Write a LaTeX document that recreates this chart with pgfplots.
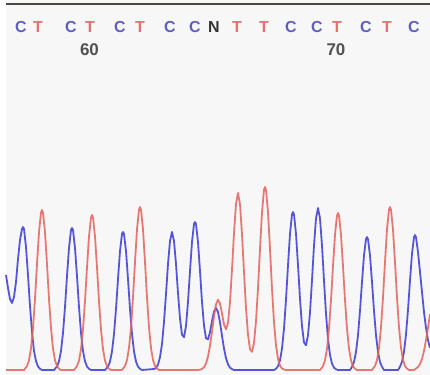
\documentclass[border=0pt]{standalone}
\usepackage{pgfplots}
\pgfplotsset{compat=1.18}
\usepackage{fontspec}
\setmainfont{Liberation Sans}
\definecolor{traceC}{RGB}{85,85,215}
\definecolor{traceT}{RGB}{228,98,92}
\definecolor{letC}{RGB}{95,95,190}
\definecolor{letT}{RGB}{228,112,112}
\definecolor{letN}{RGB}{50,50,50}
\definecolor{numcol}{RGB}{80,80,80}
\definecolor{bgcol}{RGB}{247,247,247}
\definecolor{topline}{RGB}{70,72,62}
\begin{document}
\begin{tikzpicture}
\begin{axis}[width=430bp, height=375bp, scale only axis,
  xmin=0, xmax=430, ymin=-5, ymax=370, hide axis, clip=true]
\fill[bgcol] (axis cs:6,-5) rectangle (axis cs:430,370);
\draw[topline, line width=2.2bp] (axis cs:6,366) -- (axis cs:430,366);
% C trace (blue)
\addplot[traceC, line width=1.8bp, line join=round] coordinates {
(6,95)(8,82)(10,71)(12,67)(14,73)(16,88)(18,111)(20,130)(22,141)(23,143)(24,141)(26,123)(28,95)(30,64)(32,38)(34,19)(36,9)(38,3.5)(40,1.2)(42,0)
(54,0)(55,1.2)(57,3.5)(59,8.7)(61,19)(63,37)(65,63)(67,94)(69,122)(71,140)(72,142)(73,140)(75,122)(77,94)(79,63)(81,37)(83,19)(85,8.7)(87,3.5)(89,1.2)(91,0)
(105,0)(106,1.2)(108,3.4)(110,8.4)(112,18.6)(114,36)(116,61)(118,91)(120,119)(122,136)(123,138)(124,136)(126,119)(128,91)(130,61)(132,36)(134,18.6)(136,8.4)(138,3.4)(140,1.2)(142,0)
(154,1)(156,2)(158,5.4)(160,12.8)(162,26)(164,48)(166,76)(168,106)(170,129)(172,138)(174,129)(176,106)(178,77)(180,51.5)(182,35.4)(184,32.8)(186,44)(188,68)(190,99)(192,128)(194,146)(195,148)(196,146)(198,128)(200,99)(202,68)(204,44.5)(206,31.8)(208,30.6)(210,37.8)(212,48.8)(214,58.4)(216,62)(218,58)(220,47.6)(222,34.2)(224,21.5)(226,11.8)(228,5.7)(230,2.4)(232,0.9)(234,0)
(274,0)(276,1.3)(278,3.8)(280,9.7)(282,21.3)(284,41.4)(286,70.3)(288,104.6)(290,136.2)(292,155.5)(293,158)(294,155.5)(296,136.2)(298,104.8)(300,71.1)(302,43.8)(304,27.7)(306,24.7)(308,34.7)(310,57.5)(312,89.8)(314,124.4)(316,151.6)(318,162)(320,151.6)(322,124.4)(324,89.4)(326,56.2)(328,30.9)(330,15)(332,6.35)(334,2.35)(336,0.76)(338,0)
(350,0)(352,3.2)(354,8.1)(356,18)(358,34.8)(360,59.2)(362,88)(364,114.6)(366,130.9)(367,133)(368,130.9)(370,114.6)(372,88)(374,59.2)(376,34.8)(378,18)(380,8.1)(382,3.2)(384,0)
(398,0)(400,3.3)(402,8.3)(404,18.2)(406,35.4)(408,60.1)(410,89.4)(412,116.4)(414,132.8)(415,135)(416,132.8)(418,118)(420,98)(422,78)(424,58)(426,42)(428,30)(430,22)
};
% T trace (red)
\addplot[traceT, line width=1.8bp, line join=round, opacity=0.85] coordinates {
(6,0)(24,0)(25,1.3)(27,3.9)(29,9.8)(31,21.6)(33,41.9)(35,71.2)(37,105.9)(39,137.9)(41,157.4)(42,160)(43,157.4)(45,137.9)(47,105.9)(49,71.2)(51,41.9)(53,21.6)(55,9.8)(57,3.9)(59,1.3)(61,0)
(74,0)(75,1.3)(77,3.8)(79,9.5)(81,20.9)(83,40.6)(85,69)(87,102.6)(89,133.6)(91,152.5)(92,155)(93,152.5)(95,133.6)(97,102.6)(99,69)(101,40.6)(103,20.9)(105,9.5)(107,3.8)(109,1.3)(111,0)
(122,0)(123,1.4)(125,4)(127,10)(129,22)(131,42.7)(133,72.5)(135,107.9)(137,140.5)(139,160.4)(140,163)(141,160.4)(143,140.5)(145,107.9)(147,72.5)(149,42.7)(151,22)(153,10)(155,4)(157,1.4)(159,0)
(198,0)(200,0.3)(202,1)(204,2.7)(206,6.5)(208,13.4)(210,24.3)(212,38.6)(214,53.8)(216,65.6)(218,70.2)(220,66.3)(222,56.4)(224,45.5)(226,40.7)(228,47.2)(230,67.9)(232,100.4)(234,136.9)(236,166)(238,177)(240,165.7)(242,135.9)(244,97.8)(246,61.9)(248,35.3)(250,20.8)(252,18.1)(254,27.3)(256,48.7)(258,81.6)(260,121.1)(262,157.7)(264,180.1)(265,183)(266,180.1)(268,157.7)(270,121.1)(272,81.4)(274,47.9)(276,24.7)(278,11.2)(280,4.45)(282,1.54)(284,0.48)(286,0)
(320,0)(321,1.3)(323,3.8)(325,9.6)(327,21.2)(329,41.1)(331,69.9)(333,103.9)(335,135.3)(337,154.5)(338,157)(339,154.5)(341,135.3)(343,103.9)(345,69.9)(347,41.1)(349,21.2)(351,9.6)(353,3.8)(355,1.3)(357,0)
(372,0)(373,1.4)(375,4)(377,10)(379,22)(381,42.7)(383,72.5)(385,107.9)(387,140.5)(389,160.4)(390,163)(391,160.4)(393,140.5)(395,107.9)(397,72.5)(399,42.7)(401,22)(403,10)(405,4)(407,1.4)(409,0)
(414,0)(418,3)(420,6)(422,11)(424,19)(426,30)(428,42)(430,56)
};
% base calls
\tikzset{base/.style={font=\fontsize{16}{16}\selectfont\bfseries, inner sep=0pt, anchor=center}}
\node[base, letC] at (axis cs:21,343) {C};
\node[base, letT] at (axis cs:38,343) {T};
\node[base, letC] at (axis cs:71,343) {C};
\node[base, letT] at (axis cs:90,343) {T};
\node[base, letC] at (axis cs:120,343) {C};
\node[base, letT] at (axis cs:140,343) {T};
\node[base, letC] at (axis cs:170,343) {C};
\node[base, letC] at (axis cs:195,343) {C};
\node[base, letN] at (axis cs:214,343) {N};
\node[base, letT] at (axis cs:237,343) {T};
\node[base, letT] at (axis cs:264,343) {T};
\node[base, letC] at (axis cs:291,343) {C};
\node[base, letC] at (axis cs:317,343) {C};
\node[base, letT] at (axis cs:337,343) {T};
\node[base, letC] at (axis cs:366,343) {C};
\node[base, letT] at (axis cs:387,343) {T};
\node[base, letC] at (axis cs:414,343) {C};
\node[base, numcol, font=\fontsize{17}{17}\selectfont\bfseries] at (axis cs:89.5,320) {60};
\node[base, numcol, font=\fontsize{17}{17}\selectfont\bfseries] at (axis cs:336,320) {70};
\end{axis}
\useasboundingbox (0,0) rectangle (430bp,375bp);
\end{tikzpicture}
\end{document}
